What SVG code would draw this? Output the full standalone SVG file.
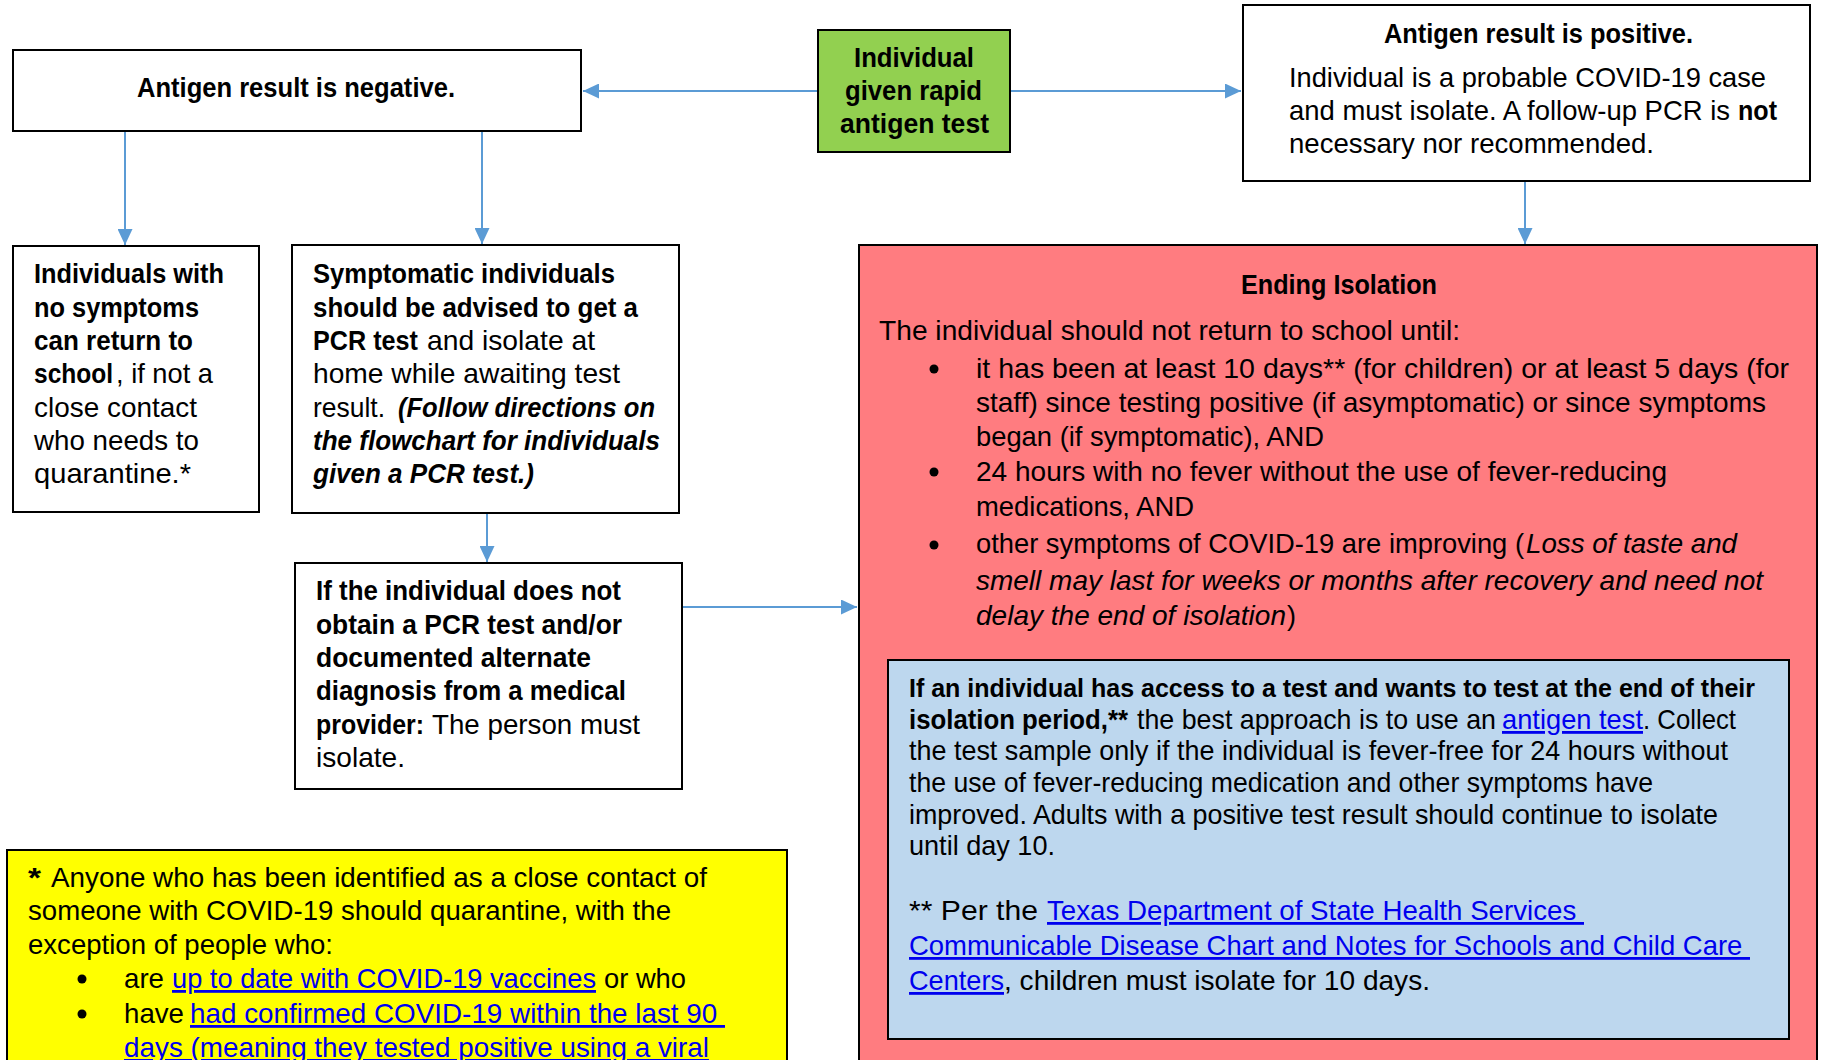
<svg xmlns="http://www.w3.org/2000/svg" width="1822" height="1060" viewBox="0 0 1822 1060">
<defs>
<style>
.box{fill:#fff;stroke:#000;stroke-width:2}
.t{font-family:"Liberation Sans",Arial,sans-serif;font-size:28px;fill:#000}
.b{font-weight:bold}
.i{font-style:italic}
.bi{font-weight:bold;font-style:italic}
.lnk{fill:#0000EE;text-decoration:underline}
.conn{stroke:#5B9BD5;stroke-width:2;fill:none;marker-end:url(#ah)}
.dot{fill:#000}
</style>
<marker id="ah" markerUnits="userSpaceOnUse" markerWidth="16" markerHeight="15" refX="16" refY="7.5" orient="auto">
<path d="M0,0 L16,7.5 L0,15 z" fill="#5B9BD5"/>
</marker>
</defs>
<rect width="1822" height="1060" fill="#fff"/>

<g id="connectors">
<path class="conn" d="M818,91 H583"/>
<path class="conn" d="M1010,91 H1241"/>
<path class="conn" d="M125,131 V245"/>
<path class="conn" d="M482,131 V244"/>
<path class="conn" d="M487,513 V562"/>
<path class="conn" d="M682,607 H857"/>
<path class="conn" d="M1525,181 V244"/>
</g>

<g id="node-start">
<rect x="818" y="30" width="192" height="122" fill="#92D050" stroke="#000" stroke-width="2"/>
<text class="t b" x="854" y="67" textLength="120" lengthAdjust="spacingAndGlyphs">Individual</text>
<text class="t b" x="845" y="100" textLength="137" lengthAdjust="spacingAndGlyphs">given rapid</text>
<text class="t b" x="840" y="133" textLength="149" lengthAdjust="spacingAndGlyphs">antigen test</text>
</g>

<g id="node-negative">
<rect class="box" x="13" y="50" width="568" height="81"/>
<text class="t b" x="137" y="97" textLength="318" lengthAdjust="spacingAndGlyphs">Antigen result is negative.</text>
</g>

<g id="node-positive">
<rect class="box" x="1243" y="5" width="567" height="176"/>
<text class="t b" x="1384" y="43" textLength="309" lengthAdjust="spacingAndGlyphs">Antigen result is positive.</text>
<text class="t" x="1289" y="87" textLength="477" lengthAdjust="spacingAndGlyphs">Individual is a probable COVID-19 case</text>
<text class="t" x="1289" y="120" textLength="441" lengthAdjust="spacingAndGlyphs">and must isolate. A follow-up PCR is</text>
<text class="t b" x="1738" y="120" textLength="39" lengthAdjust="spacingAndGlyphs">not</text>
<text class="t" x="1289" y="153" textLength="365" lengthAdjust="spacingAndGlyphs">necessary nor recommended.</text>
</g>

<g id="node-no-symptoms">
<rect class="box" x="13" y="246" width="246" height="266"/>
<text class="t b" x="34" y="283" textLength="190" lengthAdjust="spacingAndGlyphs">Individuals with</text>
<text class="t b" x="34" y="317" textLength="165" lengthAdjust="spacingAndGlyphs">no symptoms</text>
<text class="t b" x="34" y="350" textLength="159" lengthAdjust="spacingAndGlyphs">can return to</text>
<text class="t b" x="34" y="383" textLength="79" lengthAdjust="spacingAndGlyphs">school</text>
<text class="t" x="116" y="383" textLength="97" lengthAdjust="spacingAndGlyphs">, if not a</text>
<text class="t" x="34" y="417" textLength="163" lengthAdjust="spacingAndGlyphs">close contact</text>
<text class="t" x="34" y="450" textLength="165" lengthAdjust="spacingAndGlyphs">who needs to</text>
<text class="t" x="34" y="483" textLength="157" lengthAdjust="spacingAndGlyphs">quarantine.*</text>
</g>

<g id="node-symptomatic">
<rect class="box" x="292" y="245" width="387" height="268"/>
<text class="t b" x="313" y="283" textLength="302" lengthAdjust="spacingAndGlyphs">Symptomatic individuals</text>
<text class="t b" x="313" y="317" textLength="325" lengthAdjust="spacingAndGlyphs">should be advised to get a</text>
<text class="t b" x="313" y="350" textLength="105" lengthAdjust="spacingAndGlyphs">PCR test</text>
<text class="t" x="427" y="350" textLength="168" lengthAdjust="spacingAndGlyphs">and isolate at</text>
<text class="t" x="313" y="383" textLength="307" lengthAdjust="spacingAndGlyphs">home while awaiting test</text>
<text class="t" x="313" y="417" textLength="72" lengthAdjust="spacingAndGlyphs">result.</text>
<text class="t bi" x="398" y="417" textLength="257" lengthAdjust="spacingAndGlyphs">(Follow directions on</text>
<text class="t bi" x="313" y="450" textLength="347" lengthAdjust="spacingAndGlyphs">the flowchart for individuals</text>
<text class="t bi" x="313" y="483" textLength="221" lengthAdjust="spacingAndGlyphs">given a PCR test.)</text>
</g>

<g id="node-no-pcr">
<rect class="box" x="295" y="563" width="387" height="226"/>
<text class="t b" x="316" y="600" textLength="305" lengthAdjust="spacingAndGlyphs">If the individual does not</text>
<text class="t b" x="316" y="634" textLength="306" lengthAdjust="spacingAndGlyphs">obtain a PCR test and/or</text>
<text class="t b" x="316" y="667" textLength="275" lengthAdjust="spacingAndGlyphs">documented alternate</text>
<text class="t b" x="316" y="700" textLength="310" lengthAdjust="spacingAndGlyphs">diagnosis from a medical</text>
<text class="t b" x="316" y="734" textLength="108" lengthAdjust="spacingAndGlyphs">provider:</text>
<text class="t" x="432" y="734" textLength="208" lengthAdjust="spacingAndGlyphs">The person must</text>
<text class="t" x="316" y="767" textLength="89" lengthAdjust="spacingAndGlyphs">isolate.</text>
</g>

<g id="node-ending-isolation">
<rect x="859" y="245" width="958" height="840" fill="#FF7C80" stroke="#000" stroke-width="2"/>
<text class="t b" x="1241" y="294" textLength="196" lengthAdjust="spacingAndGlyphs">Ending Isolation</text>
<text class="t" x="879" y="340" textLength="581" lengthAdjust="spacingAndGlyphs">The individual should not return to school until:</text>
<circle class="dot" cx="934" cy="369" r="4.5"/>
<circle class="dot" cx="934" cy="472" r="4.5"/>
<circle class="dot" cx="934" cy="545" r="4.5"/>
<text class="t" x="976" y="378" textLength="813" lengthAdjust="spacingAndGlyphs">it has been at least 10 days** (for children) or at least 5 days (for</text>
<text class="t" x="976" y="412" textLength="790" lengthAdjust="spacingAndGlyphs">staff) since testing positive (if asymptomatic) or since symptoms</text>
<text class="t" x="976" y="446" textLength="348" lengthAdjust="spacingAndGlyphs">began (if symptomatic), AND</text>
<text class="t" x="976" y="481" textLength="691" lengthAdjust="spacingAndGlyphs">24 hours with no fever without the use of fever-reducing</text>
<text class="t" x="976" y="516" textLength="218" lengthAdjust="spacingAndGlyphs">medications, AND</text>
<text class="t" x="976" y="553" textLength="548" lengthAdjust="spacingAndGlyphs">other symptoms of COVID-19 are improving (</text>
<text class="t i" x="1526" y="553" textLength="211" lengthAdjust="spacingAndGlyphs">Loss of taste and</text>
<text class="t i" x="976" y="590" textLength="787" lengthAdjust="spacingAndGlyphs">smell may last for weeks or months after recovery and need not</text>
<text class="t i" x="976" y="625" textLength="310" lengthAdjust="spacingAndGlyphs">delay the end of isolation</text>
<text class="t" x="1287" y="625" textLength="9" lengthAdjust="spacingAndGlyphs">)</text>
</g>

<g id="node-test-at-end">
<rect x="888" y="660" width="901" height="379" fill="#BDD7EE" stroke="#000" stroke-width="2"/>
<text class="t b" x="909" y="697" font-size="26" style="font-size:26px" textLength="846" lengthAdjust="spacingAndGlyphs">If an individual has access to a test and wants to test at the end of their</text>
<text class="t b" x="909" y="729" textLength="219" lengthAdjust="spacingAndGlyphs">isolation period,**</text>
<text class="t" x="1137" y="729" textLength="359" lengthAdjust="spacingAndGlyphs">the best approach is to use an</text>
<text class="t lnk" x="1502" y="729" textLength="141" lengthAdjust="spacingAndGlyphs">antigen test</text>
<text class="t" x="1643" y="729" textLength="93" lengthAdjust="spacingAndGlyphs">. Collect</text>
<text class="t" x="909" y="760" textLength="819" lengthAdjust="spacingAndGlyphs">the test sample only if the individual is fever-free for 24 hours without</text>
<text class="t" x="909" y="792" textLength="744" lengthAdjust="spacingAndGlyphs">the use of fever-reducing medication and other symptoms have</text>
<text class="t" x="909" y="824" textLength="809" lengthAdjust="spacingAndGlyphs">improved. Adults with a positive test result should continue to isolate</text>
<text class="t" x="909" y="855" textLength="146" lengthAdjust="spacingAndGlyphs">until day 10.</text>
<text class="t" x="909" y="920" textLength="129" lengthAdjust="spacingAndGlyphs">** Per the</text>
<text class="t lnk" x="1047" y="920" textLength="537" lengthAdjust="spacingAndGlyphs">Texas Department of State Health Services&#160;</text>
<text class="t lnk" x="909" y="955" textLength="841" lengthAdjust="spacingAndGlyphs">Communicable Disease Chart and Notes for Schools and Child Care&#160;</text>
<text class="t lnk" x="909" y="990" textLength="95" lengthAdjust="spacingAndGlyphs">Centers</text>
<text class="t" x="1004" y="990" textLength="426" lengthAdjust="spacingAndGlyphs">, children must isolate for 10 days.</text>
</g>

<g id="node-footnote">
<rect x="7" y="850" width="780" height="240" fill="#FFFF00" stroke="#000" stroke-width="2"/>
<text class="t b" x="28" y="887" textLength="13" lengthAdjust="spacingAndGlyphs">*</text>
<text class="t" x="51" y="887" textLength="656" lengthAdjust="spacingAndGlyphs">Anyone who has been identified as a close contact of</text>
<text class="t" x="28" y="920" textLength="643" lengthAdjust="spacingAndGlyphs">someone with COVID-19 should quarantine, with the</text>
<text class="t" x="28" y="954" textLength="305" lengthAdjust="spacingAndGlyphs">exception of people who:</text>
<circle class="dot" cx="82" cy="979" r="4.5"/>
<circle class="dot" cx="82" cy="1014" r="4.5"/>
<text class="t" x="124" y="988" textLength="40" lengthAdjust="spacingAndGlyphs">are</text>
<text class="t lnk" x="172" y="988" textLength="424" lengthAdjust="spacingAndGlyphs">up to date with COVID-19 vaccines</text>
<text class="t" x="604" y="988" textLength="82" lengthAdjust="spacingAndGlyphs">or who</text>
<text class="t" x="124" y="1023" textLength="60" lengthAdjust="spacingAndGlyphs">have</text>
<text class="t lnk" x="190" y="1023" textLength="535" lengthAdjust="spacingAndGlyphs">had confirmed COVID-19 within the last 90&#160;</text>
<text class="t lnk" x="124" y="1057" textLength="585" lengthAdjust="spacingAndGlyphs">days (meaning they tested positive using a viral</text>
</g>
</svg>
